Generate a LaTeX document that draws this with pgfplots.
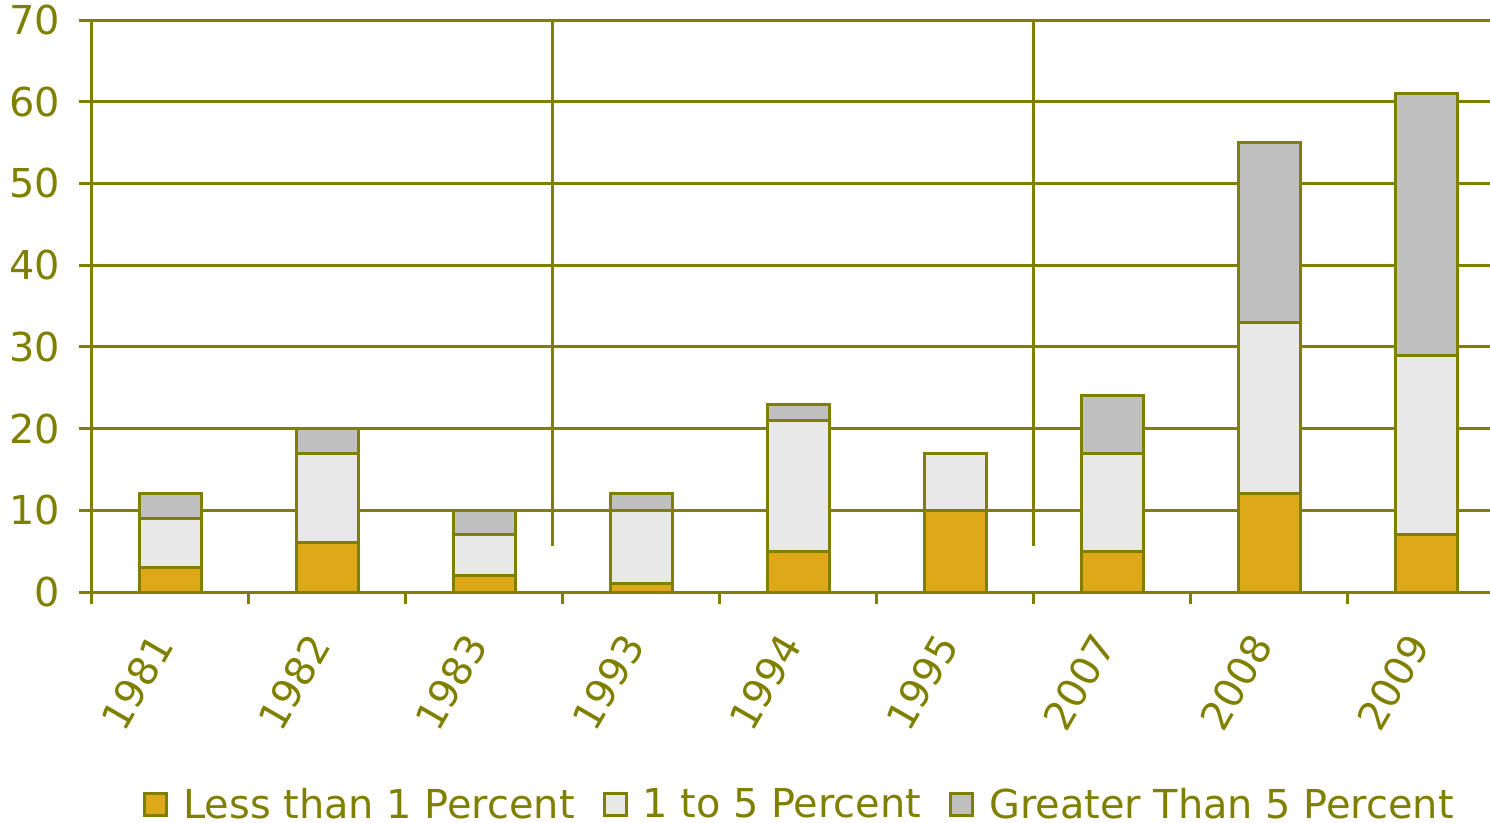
\documentclass[border=0pt]{standalone}
\usepackage{fontspec}
\setmainfont{DejaVu Sans}
\usepackage{pgfplots}
\pgfplotsset{compat=1.18}
\definecolor{chartolive}{RGB}{128,128,0}
\definecolor{bargold}{RGB}{222,169,24}
\definecolor{barlight}{RGB}{232,232,232}
\definecolor{bargray}{RGB}{192,192,192}
\begin{document}
\begin{tikzpicture}
\path[use as bounding box] (-46bp,-115.5bp) rectangle (699bp,296bp);
\clip (-46bp,-115.5bp) rectangle (699bp,296bp);
\begin{axis}[
  at={(0,0)}, anchor=south west,
  scale only axis,
  width=706.5bp, height=286bp,
  ybar stacked, bar width=31bp,
  xmin=-0.5, xmax=8.5, ymin=0, ymax=70,
  axis x line*=bottom, axis y line*=left,
  axis line style={draw=chartolive, line width=1.5bp},
  xtick={0,...,8},
  xticklabels={1981,1982,1983,1993,1994,1995,2007,2008,2009},
  minor xtick={-0.5,0.5,...,7.5},
  ytick={0,10,...,70},
  tick align=outside,
  major tick length=6.5bp, minor tick length=6bp,
  major x tick style={draw=none},
  every tick/.style={draw=chartolive, line width=1.5bp},
  minor tick style={draw=chartolive, line width=1.5bp},
  ymajorgrids,
  major grid style={draw=chartolive, line width=1.5bp},
  /pgf/number format/assume math mode=true,
  tick label style={text=chartolive, font=\fontsize{20}{24}\selectfont},
  yticklabel style={xshift=-6bp},
  xticklabel style={rotate=60, anchor=east, xshift=-13bp, yshift=-4.8bp},
  legend style={at={(0.5,-0.372)}, anchor=center, draw=none, fill=none,
    legend columns=-1, font=\fontsize{20}{24}\selectfont, text=chartolive,
    nodes={inner sep=0pt},
    /tikz/every odd column/.append style={column sep=7.5bp},
    /tikz/every even column/.append style={column sep=14bp},
    legend cell align=left},
  legend image code/.code={\draw[#1] (0bp,-5.5bp) rectangle (11bp,5.5bp);},
  every axis plot/.append style={draw=chartolive, line width=1.5bp},
]
% share of banks by loss rate, stacked per year
\addplot[fill=bargold] coordinates {(0,3) (1,6) (2,2) (3,1) (4,5) (5,10) (6,5) (7,12) (8,7)};
\addplot[fill=barlight] coordinates {(0,6) (1,11) (2,5) (3,9) (4,16) (5,7) (6,12) (7,21) (8,22)};
\addplot[fill=bargray] coordinates {(0,3) (1,3) (2,3) (3,2) (4,2) (5,0) (6,7) (7,22) (8,32)};
\legend{Less than 1 Percent, 1 to 5 Percent, Greater Than 5 Percent}
% separators between the three periods
\draw[chartolive, line width=1.5bp] (axis cs:2.436,5.6) -- (axis cs:2.436,70);
\draw[chartolive, line width=1.5bp] (axis cs:5.494,5.6) -- (axis cs:5.494,70);
\end{axis}
\end{tikzpicture}
\end{document}
